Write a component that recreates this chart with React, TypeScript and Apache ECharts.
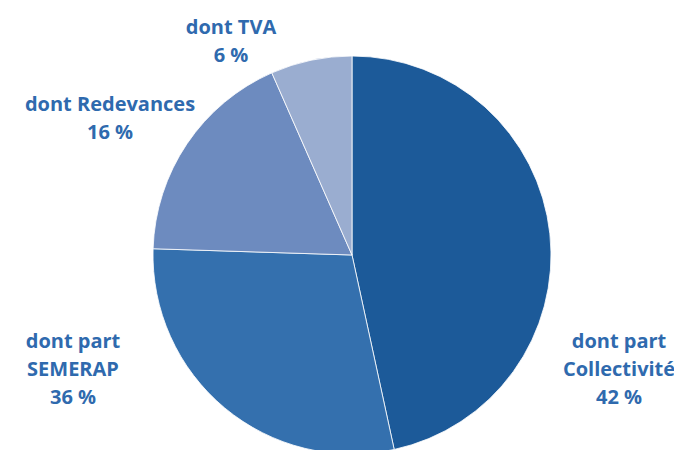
import React, { useEffect, useRef } from "react";
import * as echarts from "echarts";

const categories = ["dont part\nCollectivité", "dont part\nSEMERAP", "dont Redevances", "dont TVA"];
const sliceValues = [46.6, 28.9, 17.9, 6.6];
const labelPercents = ["42 %", "36 %", "16 %", "6 %"];
const sliceColors = ["#1c5a99", "#3470ae", "#6d8bbf", "#9aadd0"];
const labelPositions = [
  [619, 368],
  [73, 368],
  [110, 117],
  [231, 40],
];

export default function App() {
  const ref = useRef<HTMLDivElement>(null);
  useEffect(() => {
    const chart = echarts.init(ref.current!, null, { renderer: "svg" });
    chart.setOption({
      animation: false,
      backgroundColor: "#ffffff",
      series: [
        {
          type: "pie",
          center: [352, 255],
          radius: 199,
          startAngle: 90,
          clockwise: true,
          avoidLabelOverlap: false,
          data: categories.map((name, i) => ({
            name,
            value: sliceValues[i],
            itemStyle: { color: sliceColors[i] },
          })),
          itemStyle: { borderColor: "#ffffff", borderWidth: 0.8 },
          label: {
            show: true,
            position: "outside",
            formatter: (p: any) => `${p.name}\n${labelPercents[p.dataIndex]}`,
            color: "#2f6aae",
            fontFamily: "Open Sans",
            fontWeight: "bold",
            fontSize: 20,
            lineHeight: 28,
            align: "center",
          },
          labelLine: { show: false },
          labelLayout: (params: any) => ({
            x: labelPositions[params.dataIndex][0],
            y: labelPositions[params.dataIndex][1],
            align: "center",
            verticalAlign: "middle",
          }),
        },
      ],
    });
    return () => chart.dispose();
  }, []);
  return <div ref={ref} style={{ width: 674, height: 450, position: "absolute", left: 0, top: 0 }} />;
}
